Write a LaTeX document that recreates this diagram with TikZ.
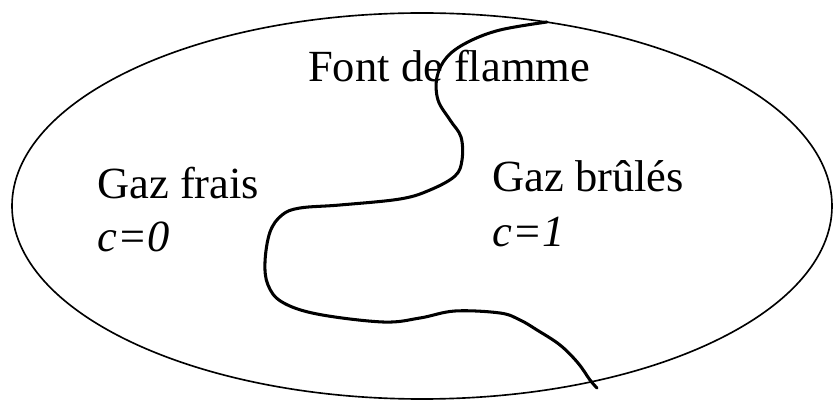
\documentclass[tikz,border=0pt]{standalone}
\usepackage{fontspec}
\setmainfont{Liberation Serif}
\usepackage{tikz}

\begin{document}
\begin{tikzpicture}[
  x=0.03cm, y=-0.03cm,
  label/.style={anchor=base west, inner sep=0pt, font=\fontsize{38}{40}\selectfont},
  front/.style={line width=2.6pt, line cap=round, line join=round}
]
  \useasboundingbox (0,0) rectangle (833,401);
  \draw[line width=1.4pt] (422,206) ellipse [x radius=410, y radius=-193];

  \node[label] (front) at (308,82) {Font de flamme};
  \node[label] (fresh) at (97,199) {Gaz frais};
  \node[label] (freshc) at (97,252) {\textit{c=0}};
  \node[label] (burnt) at (492,192) {Gaz brûlés};
  \node[label] (burntc) at (492,247) {\textit{c=1}};

  % flame front
  \draw[front] plot[smooth, tension=0.6] coordinates {
    (547,22) (500,30) (468,42) (447,57) (437,77) (438,100) (450,120)
    (461,137) (462,160) (455,176) (430,190) (400,199) (340,205) (300,208)
    (282,215) (270,232) (265,262) (268,285) (282,302) (317,314) (383,322)
    (420,318) (455,311) (500,313) (520,320) (537,330) (560,345) (578,363)
    (590,380) (597,388)};
\end{tikzpicture}
\end{document}
